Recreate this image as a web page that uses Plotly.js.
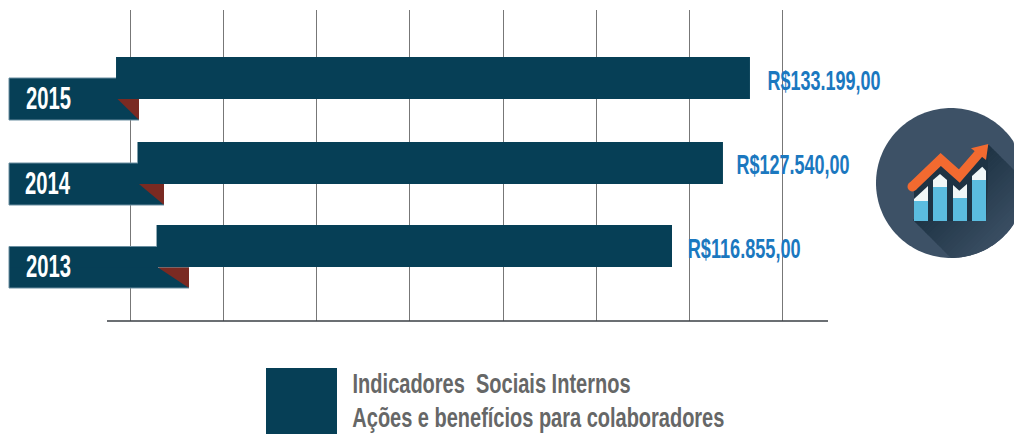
<!DOCTYPE html>
<html>
<head>
<meta charset="utf-8">
<script src="https://cdn.plot.ly/plotly-3.0.1.min.js"></script>
<style>html,body{margin:0;padding:0;background:#fff;overflow:hidden}</style>
</head>
<body>
<div id="chart" style="width:1014px;height:434px"></div>
<script>
const years = ['2013', '2014', '2015'];
const values = [116855, 127540, 133199];
const barStarts = [8800, 4800, 300];
const gridValues = [3229, 22756, 42283, 61810, 81450, 100950, 120470, 139950];
const labelShifts = [71.5, 70, 74];
const legendLines = ['Indicadores \u00a0Sociais Internos', 'Ações e benefícios para colaboradores'];

const NAVY = '#063f56', RUST = '#7a2a22', BLUE = '#1b78bf', GREY = '#666767';
const FONT = '"Liberation Sans Narrow","Liberation Sans",sans-serif';
const W = 1014, H = 434, L = 107, R = 828, T = 10, B = 321;
const px = x => (x - L) / (R - L);
const py = y => (B - y) / (B - T);
const money = v => 'R$' + v.toLocaleString('pt-BR') + ',00';

function poly(pts, fill) {
  return {type: 'path', xref: 'paper', yref: 'paper', layer: 'above',
    path: 'M' + pts.map(p => px(p[0]) + ',' + py(p[1])).join('L') + 'Z',
    fillcolor: fill, line: {width: 0}};
}
function stroke(pts, color, width) {
  return {type: 'path', xref: 'paper', yref: 'paper', layer: 'above',
    path: 'M' + pts.map(p => px(p[0]) + ',' + py(p[1])).join('L'),
    line: {color: color, width: width}};
}
function rect(x0, y0, x1, y1, fill) {
  return poly([[x0, y0], [x1, y0], [x1, y1], [x0, y1]], fill);
}
function disc(cx, cy, r, fill) {
  const pts = [];
  for (let i = 0; i < 24; i++) pts.push([cx + r * Math.cos(i / 12 * Math.PI), cy + r * Math.sin(i / 12 * Math.PI)]);
  return poly(pts, fill);
}

/* ribbons */
const ribbons = [[9, 78, 139, 120, 116, 117.5], [9, 163, 164, 205, 138, 139], [9, 246.5, 189, 288, 157, 158]];
const shapes = [];
ribbons.forEach(r => {
  const [x0, y0, x1, y1, barX, foldX] = r;
  const barBottom = y0 + 21;
  shapes.push(rect(x0, y0, barX + 1, y1, NAVY));
  shapes.push(poly([[foldX, barBottom], [x1, barBottom], [x1, y1], [x0, y1], [x0, barBottom]], NAVY));
  shapes.push(poly([[foldX, barBottom], [x1, barBottom], [x1, y1]], RUST));
  shapes.push(stroke([[barX, y0], [x0, y0], [x0, y1], [x1, y1]], '#6a8ea0', 1));
});

/* legend swatch */
shapes.push(rect(266, 368, 337, 434, NAVY));

/* icon */
const CX = 951, CY = 183, CR = 75;
const circle = [];
for (let i = 0; i < 180; i++) {
  const a = i / 180 * 2 * Math.PI;
  circle.push([Math.min(CX + CR * Math.cos(a), W), CY + CR * Math.sin(a)]);
}
shapes.push(poly(circle, '#3d5166'));
function clip(pts, f) {
  const out = [];
  pts.forEach((p, i) => {
    const q = pts[(i + 1) % pts.length], a = f(p), b = f(q);
    if (a >= 0) out.push(p);
    if (a * b < 0) { const t = a / (a - b); out.push([p[0] + (q[0] - p[0]) * t, p[1] + (q[1] - p[1]) * t]); }
  });
  return out;
}
const uMin = 693, uMax = 844, vMin = 1133, vMax = 1250, steps = 24;
const dark = [30, 51, 68], base = [61, 81, 102];
for (let s = 0; s < steps; s++) {
  const v0 = vMin + (vMax - vMin) * s / steps, v1 = vMin + (vMax - vMin) * (s + 1) / steps + 0.6;
  let pts = circle;
  pts = clip(pts, p => (p[0] - p[1]) - uMin);
  pts = clip(pts, p => uMax - (p[0] - p[1]));
  pts = clip(pts, p => (p[0] + p[1]) - v0);
  pts = clip(pts, p => v1 - (p[0] + p[1]));
  if (pts.length < 3) continue;
  const k = s / steps;
  const c = dark.map((d, i) => Math.round(d + (base[i] - d) * k));
  shapes.push(poly(pts, 'rgb(' + c.join(',') + ')'));
}
/* dark backing under arrow and bars */
shapes.push(poly([[914, 200], [914, 190], [940, 165], [959, 182], [986, 150], [988, 144], [988, 178], [986, 221], [914, 221]], '#1e3344'));
const LB = '#5bbcdf', WH = '#f0f7f8';
shapes.push(poly([[914, 201], [914, 199], [928, 186], [928, 201]], WH));
shapes.push(rect(914, 201, 928, 221, LB));
shapes.push(poly([[933, 187], [933, 180], [940, 174], [947, 180], [947, 187]], WH));
shapes.push(rect(933, 187, 947, 221, LB));
shapes.push(poly([[953, 198], [953, 185], [959.3, 190.7], [967, 184], [967, 198]], WH));
shapes.push(rect(953, 198, 967, 221, LB));
shapes.push(poly([[972, 180], [972, 176], [982.3, 166.7], [986, 170.7], [986, 180]], WH));
shapes.push(rect(972, 180, 986, 221, LB));
const OR = '#f26a30';
shapes.push(stroke([[912.3, 186.7], [940.7, 159.5], [959.3, 176], [981, 151]], OR, 9.5));
shapes.push(disc(912.3, 186.7, 4.75, OR));
shapes.push(poly([[988.3, 144], [971, 148.3], [986, 160]], OR));

/* text */
const annotations = [];
const stretched = [];
ribbons.slice().reverse().forEach((r, i) => {
  annotations.push({xref: 'paper', yref: 'paper', x: px(48.5), y: py((r[1] + r[3]) / 2 - 0.5), xanchor: 'center', yanchor: 'middle',
    text: years[i], showarrow: false, borderpad: 0, font: {family: FONT, size: 31, color: '#ffffff', weight: 700}});
  stretched.push(45);
});
values.forEach((v, i) => {
  annotations.push({xref: 'x', yref: 'y', x: v, y: i, xanchor: 'center', yanchor: 'middle', xshift: labelShifts[i], yshift: -2,
    text: money(v), showarrow: false, borderpad: 0, font: {family: FONT, size: 28, color: BLUE, weight: 700}});
  stretched.push(113);
});
legendLines.forEach((t, i) => {
  annotations.push({xref: 'paper', yref: 'paper', x: px(i === 0 ? 491 : 538), y: py(384 + i * 34), xanchor: 'center', yanchor: 'middle',
    text: t, showarrow: false, borderpad: 0, font: {family: FONT, size: 27, color: GREY, weight: 700}});
  stretched.push(i === 0 ? 278 : 372);
});

const trace = {type: 'bar', orientation: 'h', y: years, x: values.map((v, i) => v - barStarts[i]), base: barStarts,
  width: 0.5, offset: [-0.25, -0.262, -0.25], marker: {color: NAVY, line: {width: 0}}, hoverinfo: 'skip'};

const layout = {
  width: W, height: H, margin: {l: L, r: W - R, t: T, b: H - B}, showlegend: false,
  paper_bgcolor: '#fff', plot_bgcolor: '#fff', font: {family: FONT},
  xaxis: {range: [-1593, 149560], tickmode: 'array', tickvals: gridValues, showticklabels: false, ticks: '',
    showgrid: true, gridcolor: '#777777', gridwidth: 1, zeroline: false, showline: false},
  yaxis: {type: 'category', categoryorder: 'array', categoryarray: years, range: [-0.893, 2.81], showticklabels: false, ticks: '',
    showgrid: false, zeroline: false, showline: false},
  shapes: shapes.concat([stroke([[L, B], [R, B]], '#3a3f45', 1.5)]),
  annotations: annotations
};

Plotly.newPlot('chart', [trace], layout, {displayModeBar: false, staticPlot: true}).then(() => {
  document.querySelectorAll('.annotation-text').forEach((el, i) => {
    el.setAttribute('textLength', stretched[i]);
    el.setAttribute('lengthAdjust', 'spacingAndGlyphs');
  });
});
</script>
</body>
</html>
